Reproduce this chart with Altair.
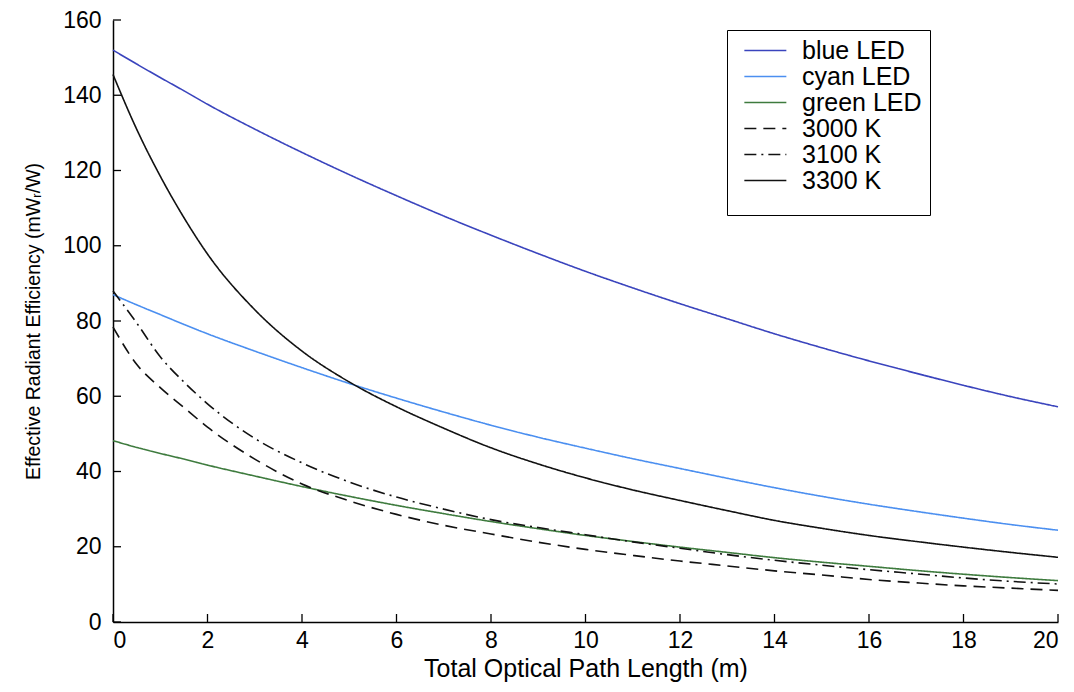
import altair as alt
import pandas as pd

# ---- data ----
x_m = [0, 0.5, 1, 1.5, 2, 3, 4, 5, 6, 7, 8, 9, 10, 11, 12, 13, 14, 15, 16, 17, 18, 19, 20]

blue_led = [152.0, 148.3, 144.7, 141.2, 137.6, 131.0, 124.8, 118.9, 113.3, 107.9, 102.8, 97.9,
            93.2, 88.8, 84.6, 80.6, 76.6, 72.9, 69.4, 66.1, 62.9, 59.9, 57.2]
cyan_led = [87.0, 84.3, 81.7, 79.1, 76.6, 72.0, 67.6, 63.4, 59.5, 55.8, 52.3, 49.1,
            46.2, 43.4, 40.8, 38.2, 35.7, 33.4, 31.3, 29.4, 27.6, 25.9, 24.4]
green_led = [48.2, 46.4, 44.8, 43.3, 41.7, 38.8, 36.0, 33.4, 31.0, 28.8, 26.7, 24.8,
             23.0, 21.4, 19.9, 18.5, 17.1, 15.9, 14.8, 13.7, 12.7, 11.8, 11.0]
k3000 = [78.4, 68.5, 62.3, 57.0, 51.8, 43.3, 36.7, 32.2, 28.6, 25.7, 23.4, 21.2,
         19.3, 17.7, 16.2, 14.9, 13.6, 12.5, 11.3, 10.4, 9.6, 9.0, 8.4]
k3100 = [88.0, 79.5, 70.5, 63.8, 58.0, 48.8, 42.3, 37.2, 33.2, 30.0, 27.2, 25.1,
         23.2, 21.3, 19.6, 17.9, 16.4, 15.1, 13.9, 12.8, 11.7, 10.8, 10.1]
k3300 = [145.5, 131.0, 118.5, 107.5, 97.8, 83.0, 72.0, 63.8, 57.2, 51.5, 46.3, 42.0,
         38.3, 35.1, 32.3, 29.6, 27.0, 24.9, 23.0, 21.4, 19.9, 18.5, 17.2]

series_names = ["blue LED", "cyan LED", "green LED", "3000 K", "3100 K", "3300 K"]
series_values = [blue_led, cyan_led, green_led, k3000, k3100, k3300]
series_colors = ["#3a44bd", "#4b8ff0", "#3e7b3e", "#111111", "#111111", "#111111"]
series_dashes = [[1, 0], [1, 0], [1, 0], [12, 7], [12, 5, 2, 5], [1, 0]]

x_ticks = [0, 2, 4, 6, 8, 10, 12, 14, 16, 18, 20]
y_ticks = [0, 20, 40, 60, 80, 100, 120, 140, 160]

rows = []
for name, vals in zip(series_names, series_values):
    for xv, yv in zip(x_m, vals):
        rows.append({"x": xv, "y": yv, "series": name, "order": series_names.index(name)})
df = pd.DataFrame(rows)

W, H = 945, 602
FONT = "Liberation Sans, Arial, Helvetica, sans-serif"

xscale = alt.Scale(domain=[0, 20], nice=False, zero=False)
yscale = alt.Scale(domain=[0, 160], nice=False)

xtitle = "Total Optical Path Length (m)"
ytitle = "Effective Radiant Efficiency (mW\u1d63/W)"

xaxis = alt.Axis(values=x_ticks, title=xtitle, ticks=False, labelPadding=7,
                 titlePadding=4, labelFontSize=23, titleFontSize=25, grid=False,
                 titleFontWeight="normal", labelFont=FONT, titleFont=FONT)
yaxis = alt.Axis(values=y_ticks, title=ytitle, ticks=False, labelPadding=12,
                 titlePadding=19, labelFontSize=23, titleFontSize=19.5, grid=False,
                 titleFontWeight="normal", labelFont=FONT, titleFont=FONT)

leg = alt.Legend(title="\u00a0", titleOrient="bottom", titleFontSize=8,
                 orient="none", legendX=614, legendY=10,
                 strokeColor="black", fillColor="white", padding=8,
                 symbolType="M-0.3,0H3.7", symbolSize=441, symbolStrokeWidth=1.5,
                 labelFont=FONT, labelFontSize=25, labelColor="black",
                 labelExpr="datum.label + '\u00a0\u00a0\u2009'",
                 labelOffset=42, rowPadding=-0.5, cornerRadius=0)

lines = alt.Chart(df).mark_line(strokeWidth=1.6, interpolate="monotone").encode(
    x=alt.X("x:Q", scale=xscale, axis=xaxis),
    y=alt.Y("y:Q", scale=yscale, axis=yaxis),
    color=alt.Color("series:N", scale=alt.Scale(domain=series_names, range=series_colors), legend=leg),
    strokeDash=alt.StrokeDash("series:N", scale=alt.Scale(domain=series_names, range=series_dashes), legend=leg),
    order="order:Q",
)

xt = pd.DataFrame({"x": x_ticks})
yt = pd.DataFrame({"y": y_ticks})

xtick_layer = alt.Chart(xt).mark_rule(color="black", strokeWidth=1.3).encode(
    x=alt.X("x:Q", scale=xscale, axis=xaxis),
    y=alt.value(H), y2=alt.value(H - 8),
)
ytick_layer = alt.Chart(yt).mark_rule(color="black", strokeWidth=1.3).encode(
    y=alt.Y("y:Q", scale=yscale, axis=yaxis),
    x=alt.value(0), x2=alt.value(8),
)

chart = alt.layer(lines, xtick_layer, ytick_layer).properties(
    width=W, height=H,
    autosize=alt.AutoSizeParams(type="none"),
    padding={"left": 105, "top": 12, "right": 8, "bottom": 62},
).configure(background="white").configure_view(stroke=None).configure_axis(
    domainColor="black", domainWidth=1.5, labelColor="black", titleColor="black",
)

chart.save("out.html", embed_options={"renderer": "svg", "actions": False})
